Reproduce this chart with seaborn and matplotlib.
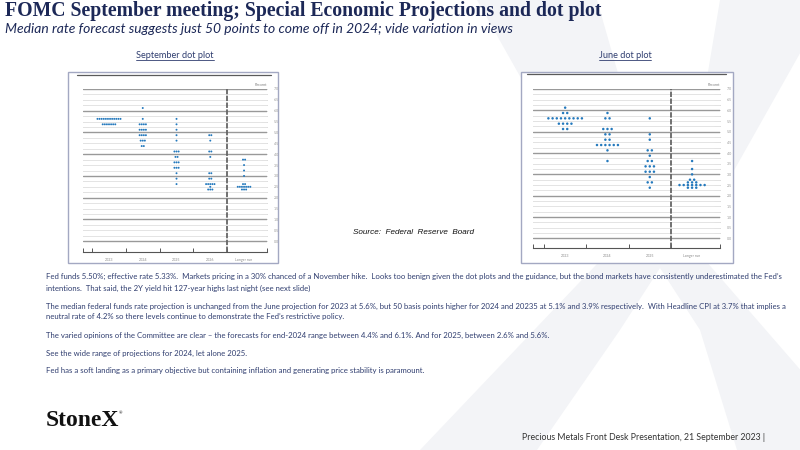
import numpy as np
import pandas as pd
import matplotlib
matplotlib.use("Agg")
import matplotlib.pyplot as plt
import seaborn as sns
from matplotlib.patches import Rectangle, Polygon
from matplotlib.lines import Line2D

# ---------------- data ----------------
sep_periods = ["2023", "2024", "2025", "2026", "Longer run"]
sep_2023_rates = [5.625, 5.375]
sep_2023_counts = [12, 7]
sep_2024_rates = [6.125, 5.625, 5.375, 5.125, 4.875, 4.625, 4.375]
sep_2024_counts = [1, 1, 4, 4, 4, 3, 2]
sep_2025_rates = [5.625, 5.375, 5.125, 4.875, 4.625, 4.125, 3.875, 3.625, 3.375, 3.125, 2.875, 2.625]
sep_2025_counts = [1, 1, 1, 1, 1, 3, 2, 3, 3, 1, 1, 1]
sep_2026_rates = [4.875, 4.625, 4.125, 3.875, 3.125, 2.875, 2.625, 2.5, 2.375]
sep_2026_counts = [2, 1, 2, 1, 2, 2, 5, 1, 3]
sep_lr_rates = [3.75, 3.5, 3.25, 3.0, 2.625, 2.5, 2.375]
sep_lr_counts = [2, 1, 1, 1, 2, 7, 3]

jun_periods = ["2023", "2024", "2025", "Longer run"]
jun_2023_rates = [6.125, 5.875, 5.625, 5.375, 5.125]
jun_2023_counts = [1, 2, 9, 4, 2]
jun_2024_rates = [5.875, 5.625, 5.125, 4.875, 4.625, 4.375, 4.125, 3.625]
jun_2024_counts = [1, 2, 3, 2, 2, 6, 1, 1]
jun_2025_rates = [5.625, 4.875, 4.625, 4.125, 3.875, 3.625, 3.375, 3.125, 2.875, 2.625, 2.375]
jun_2025_counts = [1, 1, 1, 2, 1, 2, 3, 3, 1, 2, 1]
jun_lr_rates = [3.625, 3.25, 3.0, 2.75, 2.625, 2.5, 2.375]
jun_lr_counts = [1, 1, 1, 2, 3, 7, 3]

y_tick_labels = ["0.0", "0.5", "1.0", "1.5", "2.0", "2.5", "3.0", "3.5",
                 "4.0", "4.5", "5.0", "5.5", "6.0", "6.5", "7.0"]

body_lines = [
    "Fed funds 5.50%; effective rate 5.33%.  Markets pricing in a 30% chanced of a November hike.  Looks too benign given the dot plots and the guidance, but the bond markets have consistently underestimated the Fed\u2019s",
    "intentions.  That said, the 2Y yield hit 127-year highs last night (see next slide)",
    "The median federal funds rate projection is unchanged from the June projection for 2023 at 5.6%, but 50 basis points higher for 2024 and 20235 at 5.1% and 3.9% respectively.  With Headline CPI at 3.7% that implies a",
    "neutral rate of 4.2% so there levels continue to demonstrate the Fed\u2019s restrictive policy.",
    "The varied opinions of the Committee are clear \u2013 the forecasts for end-2024 range between 4.4% and 6.1%. And for 2025, between 2.6% and 5.6%.",
    "See the wide range of projections for 2024, let alone 2025.",
    "Fed has a soft landing as a primary objective but containing inflation and generating price stability is paramount.",
]
body_y = [276, 288, 306, 317, 335, 353, 371]

# ---------------- helpers ----------------
W, H = 800, 450


def fx(x):
    return x / W


def fy(y):
    return 1 - y / H


def expand(periods, rate_lists, count_lists, step):
    rows = []
    for i, (p, rs, cs) in enumerate(zip(periods, rate_lists, count_lists)):
        for r, c in zip(rs, cs):
            for j in range(c):
                rows.append({"period": p, "pos": i + (j - (c - 1) / 2) * step, "rate": r})
    return pd.DataFrame(rows)


sep_df = expand(sep_periods,
                [sep_2023_rates, sep_2024_rates, sep_2025_rates, sep_2026_rates, sep_lr_rates],
                [sep_2023_counts, sep_2024_counts, sep_2025_counts, sep_2026_counts, sep_lr_counts],
                0.062)
jun_df = expand(jun_periods,
                [jun_2023_rates, jun_2024_rates, jun_2025_rates, jun_lr_rates],
                [jun_2023_counts, jun_2024_counts, jun_2025_counts, jun_lr_counts],
                0.099)

sns.set_theme(style="white")
plt.rcParams["font.family"] = ["Lato", "DejaVu Sans"]

fig = plt.figure(figsize=(8, 4.5), dpi=100)
fig.patch.set_facecolor("white")

# ---------------- watermark X ----------------
wm = [(477, 0), (597, 0), (640, 150), (667, 225), (695, 150), (720, 0), (830, 0),
      (692, 245), (870, 450), (737, 450), (700, 330), (660, 268), (620, 330),
      (537, 450), (420, 450), (615, 245)]
fig.add_artist(Polygon([(fx(a), fy(b)) for a, b in wm], closed=True,
                       transform=fig.transFigure, fc="#f3f4f7", ec="none", zorder=-3))


def panel(box, axrect, topline, df, periods, ylo, xlim, size):
    bx0, by0, bx1, by1 = box
    fig.add_artist(Rectangle((fx(bx0), fy(by1)), fx(bx1) - fx(bx0), fy(by0) - fy(by1),
                             transform=fig.transFigure, fc="white", ec="#a3a8c2",
                             lw=1.0, zorder=-2))
    tx0, tx1, ty = topline
    fig.add_artist(Line2D([fx(tx0), fx(tx1)], [fy(ty), fy(ty)], transform=fig.transFigure,
                          color="#5a5a5a", lw=0.9, zorder=-1))
    ax0, ax1, ay0, ay1 = axrect
    ax = fig.add_axes([fx(ax0), fy(ay1), fx(ax1) - fx(ax0), fy(ay0) - fy(ay1)])
    ax.patch.set_alpha(0)
    ax.set_xlim(*xlim)
    ax.set_ylim(ylo, 7.0)
    for v in np.arange(0, 7.01, 0.25):
        ax.axhline(v, color="#e4e4e4", lw=0.7, zorder=1)
    for v in range(0, 8):
        ax.axhline(v, color="#999999", lw=1.0, zorder=1.5)
    ax.axvline(len(periods) - 1.5, color="#666666", lw=1.3, ls=(0, (3, 0.8)), zorder=2)
    sns.scatterplot(data=df, x="pos", y="rate", ax=ax, color="#2479bd", s=size,
                    marker="o", edgecolor="none", linewidth=0, zorder=3, legend=False)
    ax.set_xlabel("")
    ax.set_ylabel("")
    ax.set_yticks(np.arange(0, 7.01, 0.5))
    ax.set_yticklabels(y_tick_labels)
    ax.set_yticks(np.arange(0, 7.01, 0.25), minor=True)
    ax.tick_params(axis="y", which="both", left=True, right=True, direction="in",
                   length=4, width=0.7, color="#bdbdbd", labelleft=False,
                   labelright=True, labelsize=2.6, labelcolor="#9a9a9a", pad=5)
    ax.set_xticks(range(len(periods)))
    ax.set_xticklabels(periods)
    ax.set_xticks([xlim[0]] + [i - 0.5 for i in range(len(periods))] + [xlim[1]], minor=True)
    ax.tick_params(axis="x", which="major", length=0, labelsize=2.6,
                   labelcolor="#8a8a8a", pad=4)
    ax.tick_params(axis="x", which="minor", bottom=True, direction="in", length=3,
                   width=0.7, color="#555555")
    for s in ["top", "left", "right"]:
        ax.spines[s].set_visible(False)
    ax.spines["bottom"].set_color("#555555")
    ax.spines["bottom"].set_linewidth(0.8)
    ax.text(1.0, 1.015, "Percent", transform=ax.transAxes, ha="right", va="bottom",
            fontsize=2.6, color="#777777")
    return ax


panel((68, 72, 278, 263), (83, 267, 89, 252), (77, 271, 75), sep_df, sep_periods,
      -0.5, (-0.77, 4.68), 2.0)
panel((521, 72, 733, 263), (533, 720, 89, 248), (527, 726, 74), jun_df, jun_periods,
      -0.45, (-0.76, 3.66), 3.2)

# ---------------- slide text ----------------
navy = "#1c2857"
body = "#2f3d6f"
fig.text(fx(5), fy(11), "FOMC September meeting; Special Economic Projections and dot plot",
         family=["Liberation Serif", "DejaVu Serif"], weight="bold", fontsize=14.2,
         color=navy, ha="left", va="center")
fig.text(fx(5), fy(29), "Median rate forecast suggests just 50 points to come off in 2024; vide variation in views",
         style="italic", fontsize=10, color=navy, ha="left", va="center")

renderer = fig.canvas.get_renderer()


def underlined(x, y, s):
    t = fig.text(fx(x), fy(y), s, fontsize=6.6, color=body, ha="center", va="center")
    bb = t.get_window_extent(renderer=renderer).transformed(fig.transFigure.inverted())
    fig.add_artist(Line2D([bb.x0, bb.x1], [bb.y0 - 0.002, bb.y0 - 0.002],
                          transform=fig.transFigure, color=body, lw=0.6))


underlined(175, 55, "September dot plot")
underlined(625, 55, "June dot plot")

fig.text(fx(353), fy(233), "Source:  Federal  Reserve  Board", style="italic",
         family=["Liberation Sans", "DejaVu Sans"], fontsize=5.85, color="#111111",
         ha="left", va="center")

for s, y in zip(body_lines, body_y):
    fig.text(fx(46), fy(y), s, fontsize=5.6, color=body, ha="left", va="center")

fig.text(fx(46), fy(421), "StoneX", family=["Liberation Serif", "DejaVu Serif"],
         weight="bold", fontsize=17, color="#111111", ha="left", va="center")
fig.text(fx(119), fy(413), "\u00ae", fontsize=3, color="#111111", ha="left", va="center")
fig.text(fx(522), fy(438), "Precious Metals Front Desk Presentation, 21 September 2023 |",
         fontsize=6.3, color="#333333", ha="left", va="center")

fig.savefig("out.png", dpi=100, facecolor="white")
